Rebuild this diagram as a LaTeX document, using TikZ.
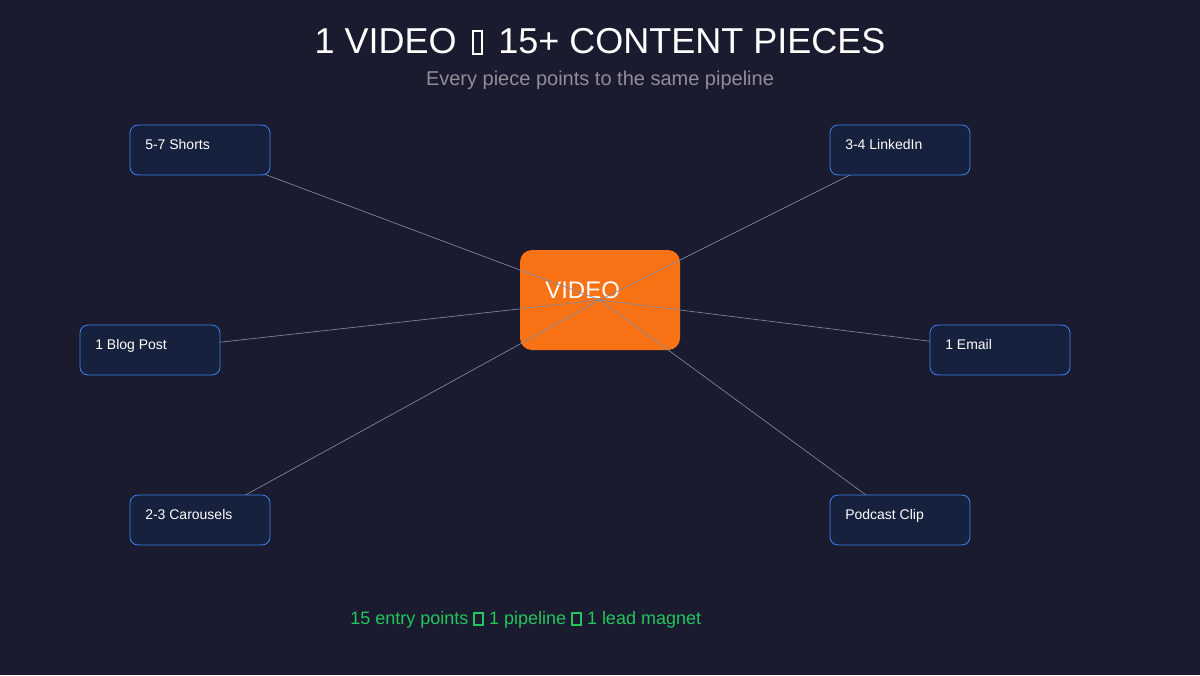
\documentclass[tikz,border=0pt]{standalone}
\usepackage{fontspec}
\setmainfont{Liberation Sans}
\definecolor{bg}{HTML}{1A1B2E}
\definecolor{boxfill}{HTML}{16213E}
\definecolor{boxline}{HTML}{3B82F6}
\definecolor{vid}{HTML}{F97316}
\definecolor{conn}{HTML}{8089A0}
\definecolor{subt}{HTML}{8E8E96}
\definecolor{grn}{HTML}{22C55E}
\newcommand{\tofubox}[3]{{\fboxsep0pt\fboxrule#3\fbox{\rule{0pt}{#2}\hspace{#1}}}}
\tikzset{
  piece/.style={draw=boxline, fill=boxfill, line width=0.6pt, rounded corners=6pt,
    minimum width=105pt, minimum height=37.5pt, inner sep=0pt},
  piecetext/.style={anchor=base west, text=white, font=\fontsize{10.5pt}{12pt}\selectfont, inner sep=0pt},
  conline/.style={draw=conn, line width=0.5pt},
}
\begin{document}
\begin{tikzpicture}[x=0.75pt,y=-0.75pt]
\fill[bg] (0,0) rectangle (1200,675);
\useasboundingbox (0,0) rectangle (1200,675);
% title
\node[text=white, font=\fontsize{27pt}{30pt}\selectfont, anchor=base, inner sep=0pt] (title) at (600,53) {1 VIDEO\hspace{0.14em} \tofubox{0.2em}{0.58em}{0.06em}\hspace{0.14em} 15+ CONTENT PIECES};
\node[text=subt, font=\fontsize{15pt}{18pt}\selectfont, anchor=base, inner sep=0pt] (sub) at (600,85) {Every piece points to the same pipeline};
% video
\node[fill=vid, rounded corners=9pt, minimum width=120pt, minimum height=75pt, inner sep=0pt] (video) at (600,300) {};
\node[text=white, font=\fontsize{18pt}{20pt}\selectfont, anchor=base west, inner sep=0pt] (vtext) at (545,298) {VIDEO};
% piece box positions
\coordinate (cs) at (200,150);
\coordinate (cl) at (900,150);
\coordinate (cb) at (150,350);
\coordinate (ce) at (1000,350);
\coordinate (cc) at (200,520);
\coordinate (cp) at (900,520);
% connectors
\draw[conline] (cs) -- (video.center);
\draw[conline] (cl) -- (video.center);
\draw[conline] (cb) -- (video.center);
\draw[conline] (ce) -- (video.center);
\draw[conline] (cc) -- (video.center);
\draw[conline] (cp) -- (video.center);
% boxes
\node[piece] (shorts) at (cs) {};
\node[piece] (linkedin) at (cl) {};
\node[piece] (blog) at (cb) {};
\node[piece] (email) at (ce) {};
\node[piece] (carousels) at (cc) {};
\node[piece] (podcast) at (cp) {};
\node[piecetext] at (145,149) {5-7 Shorts};
\node[piecetext] at (845,149) {3-4 LinkedIn};
\node[piecetext] at (95,349) {1 Blog Post};
\node[piecetext] at (945,349) {1 Email};
\node[piecetext] at (145,519) {2-3 Carousels};
\node[piecetext] at (845,519) {Podcast Clip};
% footer
\node[text=grn, font=\fontsize{13.5pt}{16pt}\selectfont, anchor=base west, inner sep=0pt] (foot) at (350,624) {15 entry points \tofubox{0.4em}{0.58em}{0.1em} 1 pipeline \tofubox{0.4em}{0.58em}{0.1em} 1 lead magnet};
\end{tikzpicture}
\end{document}
